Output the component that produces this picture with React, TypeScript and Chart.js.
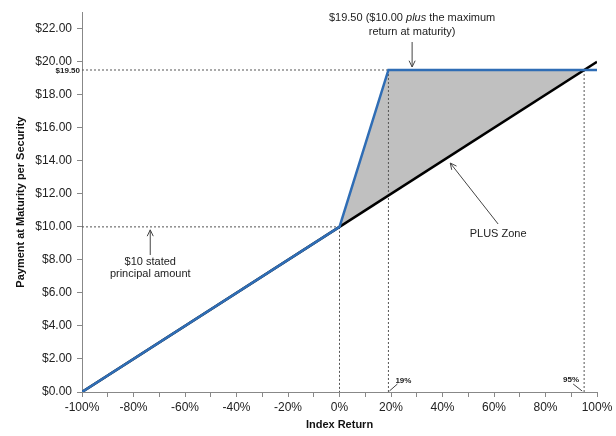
import React, { useEffect, useRef } from "react";
import { Chart, registerables } from "chart.js";

Chart.register(...registerables);

// ---- Data ----
const payoutX = [-100, 0, 19, 100];
const payoutY = [0, 10, 19.5, 19.5];
const indexX = [-100, 0, 100];
const indexY = [0, 10, 20];
const zoneX = [0, 19, 95];
const zoneY = [10, 19.5, 19.5];
const capValue = 19.5;
const principal = 10;
const capReturn = 19;
const breakEvenReturn = 95;
const xTicksMin = -100;
const xTicksMax = 100;
const yMin = 0;
const yMax = 23;

const FONT = "'Liberation Sans', Arial, sans-serif";
const BLUE = "#2F6DB5";
const DASH = "#555555";

const pts = (xs: number[], ys: number[]) => xs.map((x, i) => ({ x, y: ys[i] }));

const dashed = (a: [number, number], b: [number, number]) => ({
  data: [{ x: a[0], y: a[1] }, { x: b[0], y: b[1] }],
  borderColor: DASH,
  borderWidth: 1,
  borderDash: [2, 2],
  pointRadius: 0,
  fill: false,
});

function arrowHead(ctx: CanvasRenderingContext2D, x0: number, y0: number, x1: number, y1: number, size = 7) {
  const ang = Math.atan2(y1 - y0, x1 - x0);
  ctx.beginPath();
  ctx.moveTo(x1 - size * Math.cos(ang - Math.PI / 7), y1 - size * Math.sin(ang - Math.PI / 7));
  ctx.lineTo(x1, y1);
  ctx.lineTo(x1 - size * Math.cos(ang + Math.PI / 7), y1 - size * Math.sin(ang + Math.PI / 7));
  ctx.stroke();
}

const annotationPlugin = {
  id: "notes",
  afterDraw(chart: any) {
    const { ctx, scales } = chart;
    const xs = scales.x;
    const ys = scales.y;
    const px = (v: number) => xs.getPixelForValue(v);
    const py = (v: number) => ys.getPixelForValue(v);
    ctx.save();
    ctx.fillStyle = "#222";
    ctx.strokeStyle = "#444";
    ctx.lineWidth = 1;
    ctx.textBaseline = "middle";

    // Top note with italic "plus"
    const cx = px(28.2);
    const l1y = 18;
    const parts: [string, string][] = [
      ["$19.50 ($10.00 ", `11px ${FONT}`],
      ["plus", `italic 11px ${FONT}`],
      [" the maximum", `11px ${FONT}`],
    ];
    let total = 0;
    parts.forEach(([t, f]) => { ctx.font = f; total += ctx.measureText(t).width; });
    let x = cx - total / 2;
    ctx.textAlign = "left";
    parts.forEach(([t, f]) => { ctx.font = f; ctx.fillText(t, x, l1y); x += ctx.measureText(t).width; });
    ctx.font = `11px ${FONT}`;
    ctx.textAlign = "center";
    ctx.fillText("return at maturity)", cx, 32);
    ctx.beginPath(); ctx.moveTo(cx, 42); ctx.lineTo(cx, py(capValue) - 3); ctx.stroke();
    arrowHead(ctx, cx, 42, cx, py(capValue) - 3);

    // Principal note
    const px2 = px(-73.5);
    ctx.fillText("$10 stated", px2, 262);
    ctx.fillText("principal amount", px2, 274);
    ctx.beginPath(); ctx.moveTo(px2, 255); ctx.lineTo(px2, py(principal) + 3); ctx.stroke();
    arrowHead(ctx, px2, 255, px2, py(principal) + 3);

    // PLUS Zone
    ctx.fillText("PLUS Zone", px(61.6), 234);
    const ax0 = px(61.6), ay0 = 224, ax1 = px(43), ay1 = 163;
    ctx.beginPath(); ctx.moveTo(ax0, ay0); ctx.lineTo(ax1, ay1); ctx.stroke();
    arrowHead(ctx, ax0, ay0, ax1, ay1);

    // Small labels
    ctx.font = `bold 8px ${FONT}`;
    ctx.textAlign = "right";
    ctx.fillText("$19.50", xs.left - 2, py(capValue) + 1);
    ctx.textAlign = "center";
    ctx.fillText(`${capReturn}%`, px(capReturn) + 15, ys.bottom - 11);
    ctx.fillText(`${breakEvenReturn}%`, px(breakEvenReturn) - 13, ys.bottom - 12);
    ctx.beginPath();
    ctx.moveTo(px(capReturn) + 1, ys.bottom - 1); ctx.lineTo(px(capReturn) + 9, ys.bottom - 8);
    ctx.moveTo(px(breakEvenReturn) - 2, ys.bottom - 1); ctx.lineTo(px(breakEvenReturn) - 11, ys.bottom - 8);
    ctx.stroke();
    ctx.restore();
  },
};

export default function App() {
  const ref = useRef<HTMLCanvasElement | null>(null);
  useEffect(() => {
    if (!ref.current) return;
    const chart = new Chart(ref.current, {
      type: "line",
      data: {
        datasets: [
          { data: pts(payoutX, payoutY), borderColor: BLUE, borderWidth: 2.5, pointRadius: 0, fill: false },
          { data: pts(indexX, indexY), borderColor: "#000", borderWidth: 2.5, pointRadius: 0, fill: false },
          dashed([xTicksMin, capValue], [capReturn, capValue]),
          dashed([xTicksMin, principal], [0, principal]),
          dashed([0, principal], [0, 0]),
          dashed([capReturn, capValue], [capReturn, 0]),
          dashed([breakEvenReturn, capValue], [breakEvenReturn, 0]),
          { data: pts(zoneX, zoneY), borderWidth: 0, borderColor: "rgba(0,0,0,0)", backgroundColor: "#C0C0C0", pointRadius: 0, fill: 1 },
        ] as any,
      },
      options: {
        animation: false,
        responsive: true,
        maintainAspectRatio: false,
        layout: { padding: { top: 8, right: 19, left: 0, bottom: 0 } },
        plugins: { legend: { display: false }, tooltip: { enabled: false } },
        elements: { line: { tension: 0 } },
        scales: {
          x: {
            type: "linear",
            min: xTicksMin,
            max: xTicksMax,
            afterFit: (s: any) => { s.height = 44; },
            ticks: {
              stepSize: 10,
              autoSkip: false,
              maxRotation: 0,
              padding: 3,
              color: "#222",
              font: { family: FONT, size: 12 },
              callback: (v: any) => (Number(v) % 20 === 0 ? `${v}%` : ""),
            },
            grid: { drawOnChartArea: false, drawTicks: true, tickLength: 5, color: "#888" },
            border: { color: "#888", width: 1 },
            title: { display: true, text: "Index Return", color: "#111", font: { family: FONT, size: 11, weight: "bold" }, padding: { top: 2, bottom: 4.4 } },
          },
          y: {
            type: "linear",
            min: yMin,
            max: yMax,
            afterFit: (s: any) => { s.width = 82; },
            ticks: {
              stepSize: 2,
              includeBounds: false,
              padding: 5,
              color: "#222",
              font: { family: FONT, size: 12 },
              callback: (v: any) => `$${Number(v).toFixed(2)}`,
            },
            grid: { drawOnChartArea: false, drawTicks: true, tickLength: 5, color: "#888" },
            border: { color: "#888", width: 1 },
            title: { display: true, text: "Payment at Maturity per Security", color: "#111", font: { family: FONT, size: 11, weight: "bold" }, padding: { top: 14.4, bottom: 2 } },
          },
        },
      } as any,
      plugins: [annotationPlugin],
    });
    return () => chart.destroy();
  }, []);
  return (
    <div style={{ position: "fixed", left: 0, top: 0, width: 616, height: 436, background: "#fff" }}>
      <canvas ref={ref} />
    </div>
  );
}
